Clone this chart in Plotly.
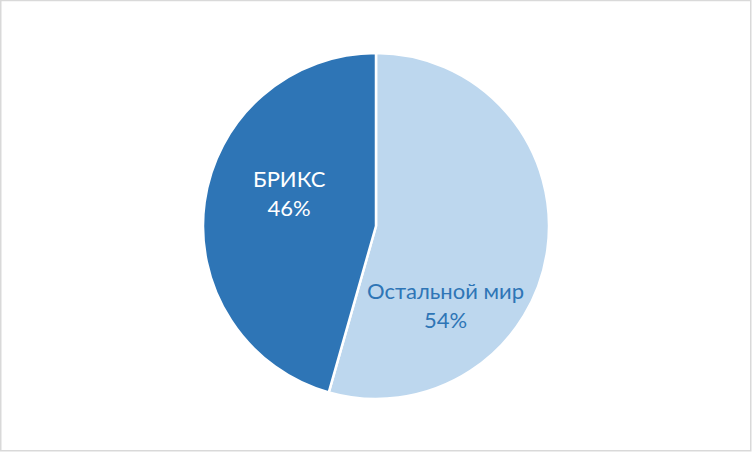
import plotly.graph_objects as go

labels = ["Остальной мир", "БРИКС"]
values = [54.4, 45.6]
colors = ["#BDD7EE", "#2E75B6"]
text_colors = ["#2E75B6", "#FFFFFF"]
# label anchor positions (pixels in the 752x452 canvas)
label_px = [(445, 305), (289, 193)]

W, H = 752, 452
ML, MR, MT, MB = 0, 0, 53, 53

fig = go.Figure(go.Pie(
    labels=labels, values=values, sort=False, direction="clockwise", rotation=0,
    marker=dict(colors=colors, line=dict(color="#FFFFFF", width=2.5)),
    textinfo="none", hoverinfo="label+percent", showlegend=False,
))

total = sum(values)
ph = H - MT - MB
for lab, v, tc, (px, py) in zip(labels, values, text_colors, label_px):
    fig.add_annotation(
        x=(px - ML) / (W - ML - MR), y=(H - MB - py) / ph, xref="paper", yref="paper",
        text=f"{lab}<br>{100 * v / total:.0f}%", showarrow=False,
        font=dict(family="Lato, Open Sans, sans-serif", size=22, color=tc),
        align="center", xanchor="center", yanchor="middle",
    )

fig.add_shape(type="rect", xref="paper", yref="paper",
              x0=0.75 / W, x1=(W - 1.25) / W,
              y0=-(MB - 1.25) / ph, y1=1 + (MT - 0.5) / ph,
              line=dict(color="#D9D9D9", width=1.5), fillcolor="rgba(0,0,0,0)")

fig.update_layout(
    width=W, height=H, margin=dict(l=ML, r=MR, t=MT, b=MB),
    paper_bgcolor="#FFFFFF", plot_bgcolor="#FFFFFF",
)

fig.write_html("out.html", config={"displayModeBar": False},
               post_script="document.body.style.margin='0';document.body.style.padding='0';")
